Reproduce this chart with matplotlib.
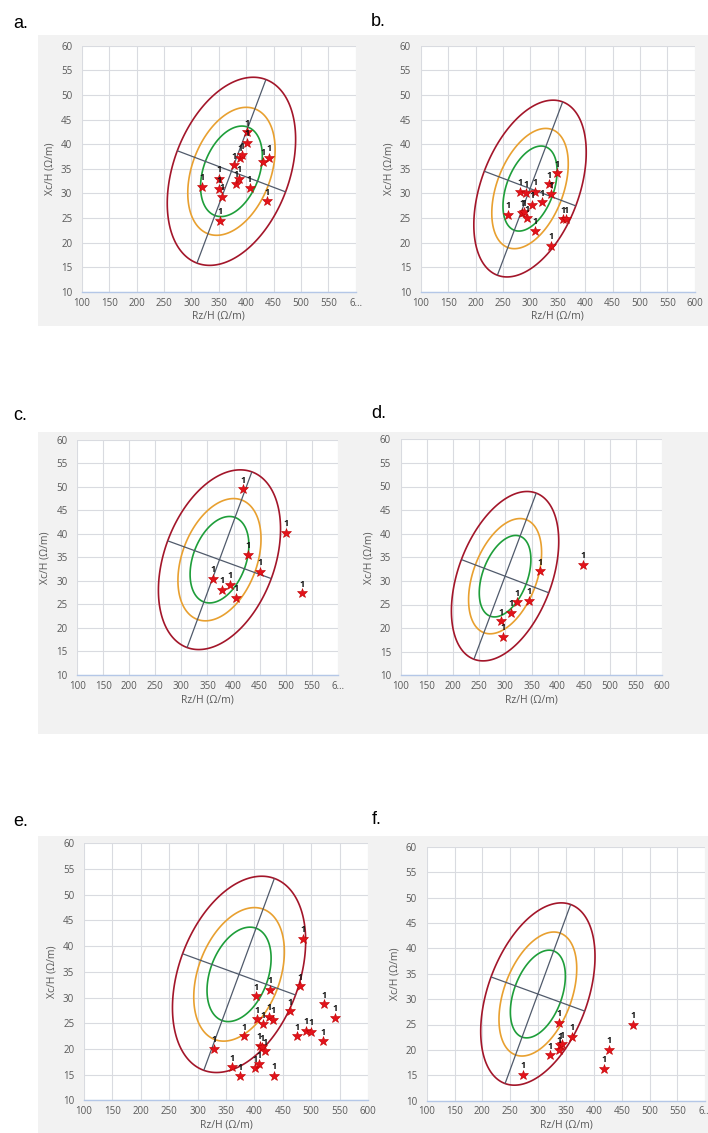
import numpy as np
import matplotlib
matplotlib.use('Agg')
import matplotlib.pyplot as plt
from matplotlib.patches import Rectangle, Polygon

W, H = 708, 1133

# reference populations: mean Rz/H, mean Xc/H, sd Rz/H, sd Xc/H, correlation
male_ref = [373, 34.5, 47.9, 7.8, 0.34]
female_ref = [299.5, 31.0, 41.9, 7.33, 0.41]

# tolerance ellipses 50%, 75%, 95%
tol_levels = [0.50, 0.75, 0.95]
tol_colors = ['#1e9e3a', '#e8a030', '#a3162a']

# individual vectors per panel
a_rz = [320, 351, 350, 355, 352, 378, 382, 387, 389, 393, 401, 402, 406, 430, 442, 438]
a_xc = [31.4, 33.0, 30.9, 29.3, 24.5, 35.7, 32.0, 33.0, 37.2, 37.8, 42.4, 40.3, 31.1, 36.4, 37.2, 28.4]

b_rz = [259, 281, 293, 308, 337, 335, 321, 303, 285, 288, 294, 309, 349, 359, 366, 337]
b_xc = [25.7, 30.4, 30.0, 30.4, 29.8, 31.9, 28.2, 27.7, 26.1, 26.2, 25.0, 22.4, 34.1, 24.8, 24.8, 19.4]

c_rz = [361, 377, 393, 405, 419, 428, 450, 501, 532]
c_xc = [30.4, 28.1, 29.2, 26.4, 49.5, 35.5, 31.9, 40.2, 27.4]

d_rz = [291, 296, 311, 323, 345, 366, 448]
d_xc = [21.4, 18.2, 23.3, 25.5, 25.8, 32.0, 33.4]

e_rz = [329, 361, 374, 381, 403, 405, 416, 425, 432, 427, 409, 413, 419, 401, 408, 434,
        463, 480, 486, 475, 491, 499, 520, 522, 542]
e_xc = [20.0, 16.4, 14.7, 22.5, 30.2, 25.8, 24.8, 26.3, 25.7, 31.5, 20.6, 20.3, 19.5, 16.2, 17.0, 14.8,
        27.3, 32.2, 41.4, 22.5, 23.5, 23.3, 21.5, 28.7, 26.1]

f_rz = [272, 322, 337, 337, 339, 342, 361, 419, 428, 470]
f_xc = [15.1, 18.9, 25.3, 20.0, 20.9, 21.1, 22.6, 16.3, 20.0, 24.9]

x_ticks = list(range(100, 601, 50))
y_ticks = list(range(10, 61, 5))

tick_font = dict(family='Open Sans', size=7, color='#595959')

fig = plt.figure(figsize=(W / 100, H / 100), dpi=100)

# grey chart backgrounds (one strip per row)
for top, bot in [(35, 326), (432, 734), (836, 1133)]:
    fig.patches.append(Rectangle((38 / W, 1 - bot / H), (W - 38) / W, (bot - top) / H,
                                 transform=fig.transFigure, facecolor='#f2f2f2',
                                 edgecolor='none', zorder=-5))


def panel(box, letter, letter_xy, rz, xc, ref, cut_last):
    l, r, t, b = box
    ax = fig.add_axes([l / W, 1 - b / H, (r - l) / W, (b - t) / H])
    ax.set_facecolor('white')
    ax.set_xlim(100, 600)
    ax.set_ylim(10, 60)
    ax.set_xticks(x_ticks)
    ax.set_yticks(y_ticks)
    labels = [str(v) for v in x_ticks]
    if cut_last:
        labels[-1] = '6…'
    ax.set_xticklabels(labels, fontdict=tick_font)
    ax.set_yticklabels([str(v) for v in y_ticks], fontdict=tick_font)
    ax.tick_params(length=0)
    ax.tick_params(axis='x', pad=4)
    ax.tick_params(axis='y', pad=7)
    ax.grid(True, color='#d9dbe0', lw=0.8)
    ax.set_axisbelow(True)
    for s in ['top', 'right', 'left']:
        ax.spines[s].set_visible(False)
    ax.spines['bottom'].set_color('#b4c7e7')
    ax.spines['bottom'].set_linewidth(1.0)

    w_px, h_px = r - l, b - t
    ax.text(0.5, -19 / h_px, 'Rz/H (Ω/m)', transform=ax.transAxes, ha='center', va='top',
            family='Open Sans', size=7.5, color='#595959')
    ax.text(-32 / w_px, 0.5, 'Xc/H (Ω/m)', transform=ax.transAxes, ha='center', va='center',
            rotation=90, family='Open Sans', size=7.5, color='#595959')

    mx, my, sx, sy, rho = ref
    tt = np.linspace(0, 2 * np.pi, 720, endpoint=False)
    for p, col in zip(tol_levels, tol_colors):
        k = np.sqrt(-2 * np.log(1 - p))
        ex = mx + k * sx * np.cos(tt)
        ey = my + k * sy * (rho * np.cos(tt) + np.sqrt(1 - rho ** 2) * np.sin(tt))
        ax.add_patch(Polygon(np.column_stack([ex, ey]), closed=True, fill=False,
                             edgecolor=col, lw=1.2, zorder=2))

    # principal axes of the 95% ellipse as seen on the chart
    disp = ax.transData.transform(np.column_stack([ex, ey]))
    cen = ax.transData.transform([[mx, my]])[0]
    dist = np.hypot(disp[:, 0] - cen[0], disp[:, 1] - cen[1])
    for i in [np.argmax(dist), np.argmin(dist)]:
        ax.plot([ex[i], 2 * mx - ex[i]], [ey[i], 2 * my - ey[i]], color='#505a6b', lw=0.9,
                solid_capstyle='butt', zorder=2)

    ax.plot(rz, xc, linestyle='none', marker='*', ms=7, color='#e3121b',
            markeredgecolor='#c00000', markeredgewidth=0.4, zorder=4)
    for xv, yv in zip(rz, xc):
        ax.annotate('1', (xv, yv), xytext=(0, 6.5), textcoords='offset points',
                    ha='center', va='center', fontsize=6.5, color='#111111',
                    family='Open Sans', fontweight='bold', zorder=5)

    fig.text(letter_xy[0] / W, 1 - letter_xy[1] / H, letter, ha='left', va='center',
             family='Liberation Sans', size=13, color='black')
    return ax


panel((82, 355.7, 45.7, 292), 'a.', (13, 23), a_rz, a_xc, male_ref, True)
panel((420.7, 694.7, 45.7, 292), 'b.', (371, 22), b_rz, b_xc, female_ref, False)
panel((77.3, 337.7, 439.7, 675), 'c.', (13, 415), c_rz, c_xc, male_ref, True)
panel((400.7, 662.3, 439.3, 675.3), 'd.', (371, 413), d_rz, d_xc, female_ref, False)
panel((84, 368, 843.3, 1100.3), 'e.', (13, 821), e_rz, e_xc, male_ref, False)
panel((426.7, 705.3, 846.7, 1100.7), 'f.', (372, 819), f_rz, f_xc, female_ref, True)

fig.savefig('out.png', dpi=100, facecolor='white')
